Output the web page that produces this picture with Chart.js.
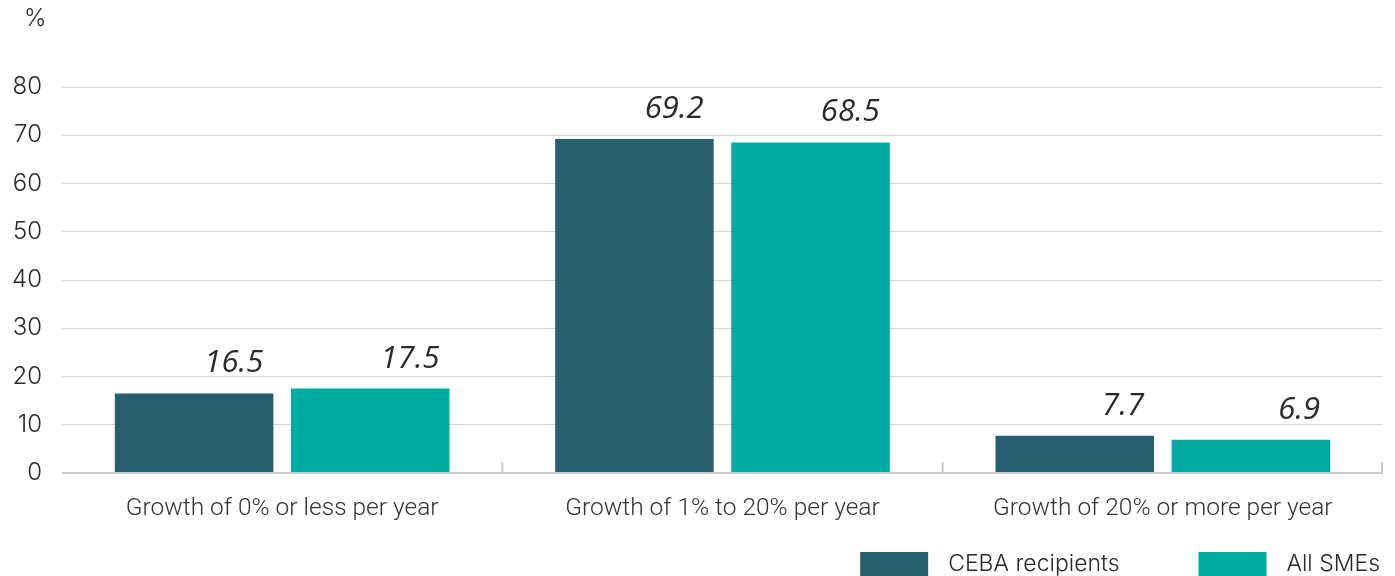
<!DOCTYPE html>
<html>
<head>
<meta charset="utf-8">
<script src="https://cdn.jsdelivr.net/npm/chart.js@4.4.1/dist/chart.umd.min.js"></script>
<style>
  html, body { margin: 0; padding: 0; background: #ffffff; }
  #chart { display: block; }
</style>
</head>
<body>
<canvas id="chart" width="1395" height="576"></canvas>
<script>
const categories = ['Growth of 0% or less per year', 'Growth of 1% to 20% per year', 'Growth of 20% or more per year'];
const seriesNames = ['CEBA recipients', 'All SMEs'];
const cebaRecipients = [16.5, 69.2, 7.7];
const allSmes = [17.5, 68.5, 6.9];
const yTicks = [0, 10, 20, 30, 40, 50, 60, 70, 80];
const unitLabel = '%';

const DARK = '#275f70';
const TEAL = '#00aba2';
const GRID = '#d4d4d4';
const AXIS = '#c9c9c9';
const TEXT = '#2a2a2a';
const TICK_FONT = 'Inter, Lato, sans-serif';

// italic value printed above the right part of each bar
const valueLabels = {
  id: 'valueLabels',
  afterDatasetsDraw(chart) {
    const { ctx } = chart;
    ctx.save();
    ctx.font = 'italic 31px "Open Sans", sans-serif';
    ctx.fillStyle = TEXT;
    ctx.textAlign = 'right';
    ctx.textBaseline = 'alphabetic';
    chart.data.datasets.forEach((ds, di) => {
      chart.getDatasetMeta(di).data.forEach((bar, i) => {
        const right = bar.x + bar.width / 2;
        ctx.fillText(ds.data[i].toFixed(1), right - 10, bar.y - 21);
      });
    });
    ctx.restore();
  },
};

// unit mark, short separators on the baseline and the legend strip
const chartExtras = {
  id: 'chartExtras',
  afterDraw(chart) {
    const { ctx, chartArea } = chart;
    const x = chart.scales.x;
    ctx.save();

    ctx.font = '300 24px ' + TICK_FONT;
    ctx.fillStyle = TEXT;
    ctx.textAlign = 'left';
    ctx.textBaseline = 'middle';
    ctx.fillText(unitLabel, 24, 19);

    ctx.strokeStyle = AXIS;
    ctx.lineWidth = 2;
    const edges = [];
    for (let i = 1; i < categories.length; i++) {
      edges.push((x.getPixelForValue(i - 1) + x.getPixelForValue(i)) / 2);
    }
    edges.push(chartArea.right - 1);
    edges.forEach((px) => {
      ctx.beginPath();
      ctx.moveTo(px, chartArea.bottom);
      ctx.lineTo(px, chartArea.bottom - 11);
      ctx.stroke();
    });

    ctx.font = '300 23px ' + TICK_FONT;
    const boxW = 68;
    const boxH = 24;
    const gap = 20;
    const spacing = 79;
    const top = chart.height - boxH;
    const items = chart.data.datasets.map((ds) => ({
      label: ds.label,
      color: ds.backgroundColor,
      w: ctx.measureText(ds.label).width,
    }));
    let cursor = chartArea.right - 3;
    for (let i = items.length - 1; i >= 0; i--) {
      const it = items[i];
      cursor -= it.w;
      it.textX = cursor;
      cursor -= gap + boxW;
      it.boxX = cursor;
      cursor -= spacing;
    }
    items.forEach((it) => {
      ctx.fillStyle = it.color;
      ctx.fillRect(it.boxX, top, boxW, boxH);
      ctx.fillStyle = TEXT;
      ctx.fillText(it.label, it.textX, top + boxH / 2);
    });
    ctx.restore();
  },
};

new Chart(document.getElementById('chart'), {
  type: 'bar',
  data: {
    labels: categories,
    datasets: [
      { label: seriesNames[0], data: cebaRecipients, backgroundColor: DARK },
      { label: seriesNames[1], data: allSmes, backgroundColor: TEAL },
    ],
  },
  options: {
    responsive: false,
    animation: false,
    layout: { padding: { top: 87, right: 12, bottom: 0, left: 0 } },
    plugins: {
      legend: { display: false },
      tooltip: { enabled: false },
    },
    scales: {
      x: {
        grid: { display: false, drawTicks: false },
        border: { display: false },
        ticks: {
          color: '#333333',
          padding: 21,
          font: { family: 'Roboto', weight: 300, size: 24.5 },
        },
        afterFit(axis) { axis.height = 103; },
      },
      y: {
        min: 0,
        max: 80,
        grid: {
          drawTicks: false,
          color: (c) => (c.tick && c.tick.value === 0 ? AXIS : GRID),
          lineWidth: (c) => (c.tick && c.tick.value === 0 ? 2 : 1),
        },
        border: { display: false },
        afterBuildTicks(axis) { axis.ticks = yTicks.map((v) => ({ value: v })); },
        ticks: {
          color: TEXT,
          padding: 20,
          font: { family: TICK_FONT, weight: 300, size: 24 },
        },
        afterFit(axis) { axis.width = 62; },
      },
    },
  },
  plugins: [valueLabels, chartExtras],
});
</script>
</body>
</html>
